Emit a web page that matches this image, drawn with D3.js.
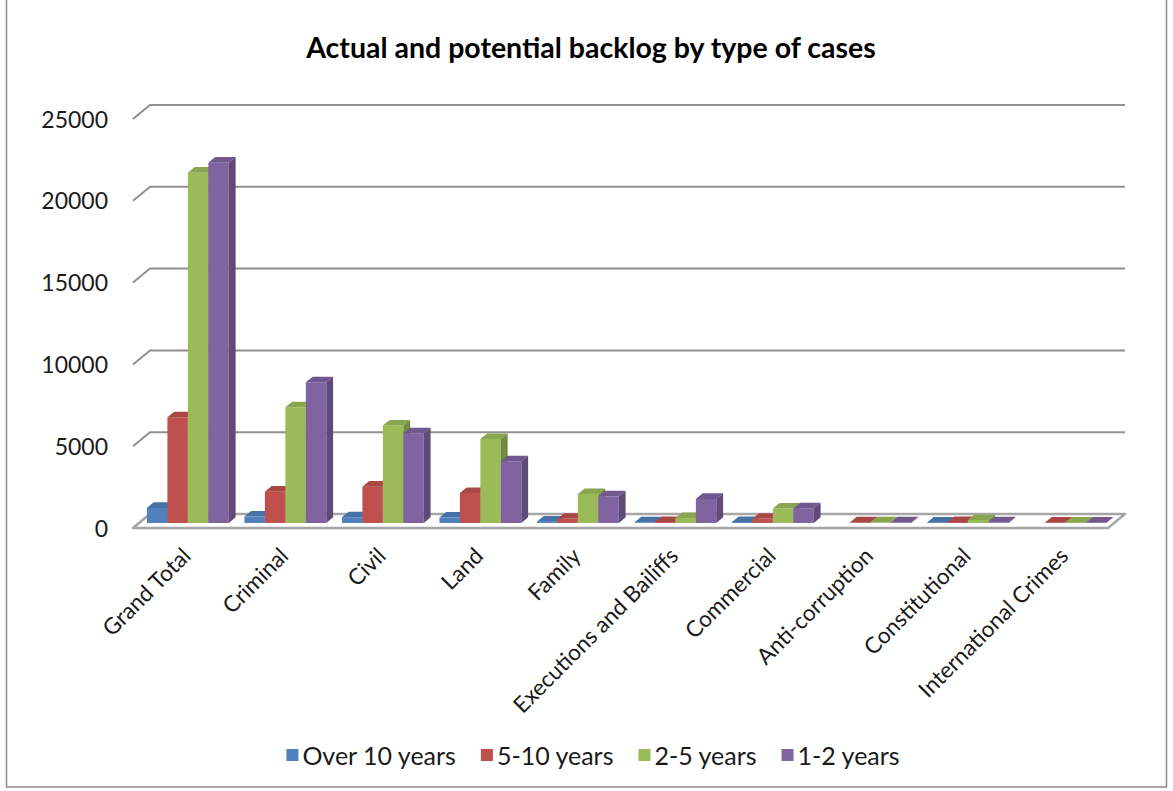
<!DOCTYPE html>
<html>
<head>
<meta charset="utf-8">
<script src="https://cdn.jsdelivr.net/npm/d3@7"></script>
<style>
  html, body { margin: 0; padding: 0; background: #fff; }
  svg { display: block; font-family: Lato, "Open Sans", sans-serif; }
</style>
</head>
<body>
<svg id="chart" width="1173" height="791"></svg>
<script>
// Case categories along the horizontal axis
const categories = [
  "Grand Total", "Criminal", "Civil", "Land", "Family",
  "Executions and Bailiffs", "Commercial", "Anti-corruption",
  "Constitutional", "International Crimes"
];

// Backlog series (number of cases by age of case)
const seriesNames = ["Over 10 years", "5-10 years", "2-5 years", "1-2 years"];
const overTenYears = [920, 390, 350, 330, 80, 30, 60, 0, 20, 0];
const fiveToTenYears = [6460, 1910, 2220, 1830, 250, 60, 250, 30, 60, 15];
const twoToFiveYears = [21410, 7070, 5950, 5130, 1770, 300, 880, 40, 180, 15];
const oneToTwoYears = [22020, 8600, 5480, 3770, 1630, 1470, 900, 30, 40, 15];
const seriesColors = ["#4F81BD", "#C0504D", "#9BBB59", "#8064A2"];

// Value axis ticks
const yTicks = [0, 5000, 10000, 15000, 20000, 25000];

const seriesValues = [overTenYears, fiveToTenYears, twoToFiveYears, oneToTwoYears];

const svg = d3.select("#chart");

// Outer chart border
svg.append("rect")
  .attr("x", 6.5).attr("y", -2)
  .attr("width", 1160).attr("height", 789)
  .attr("fill", "none").attr("stroke", "#8c8c8c").attr("stroke-width", 1.5);

// Title
svg.append("text")
  .attr("x", 591).attr("y", 47)
  .attr("text-anchor", "middle").attr("dominant-baseline", "central")
  .attr("font-size", 28.5).attr("font-weight", "bold").attr("fill", "#000")
  .text("Actual and potential backlog by type of cases");

// Oblique 3D projection: depth d in [0,1] shifts points right and up
const depthX = 17, depthY = -14;
const proj = (px, py, d) => [px + depthX * d, py + depthY * d];

const x = d3.scaleBand().domain(categories).range([133, 1108])
  .paddingInner(0.16).paddingOuter(0.08);
const xs = d3.scaleBand().domain(seriesNames).range([0, x.bandwidth()]);
const y = d3.scaleLinear().domain([0, 25000]).range([528, 119]);

const floorLeft = 133, floorRight = 1108;

// Back wall gridlines with the diagonal side-wall segment
const grid = svg.append("g");
yTicks.forEach(v => {
  const a = proj(floorLeft, y(v), 0);
  const b = proj(floorLeft, y(v), 1);
  const c = proj(floorRight, y(v), 1);
  grid.append("polyline")
    .attr("points", [a, b, c].map(p => p.join(",")).join(" "))
    .attr("fill", "none").attr("stroke", "#909090").attr("stroke-width", 2);
});

// Floor
const floorPts = [
  proj(floorLeft, y(0), 0), proj(floorRight, y(0), 0),
  proj(floorRight, y(0), 1), proj(floorLeft, y(0), 1)
];
svg.append("polygon")
  .attr("points", floorPts.map(p => p.join(",")).join(" "))
  .attr("fill", "#fff").attr("stroke", "#a6a6a6").attr("stroke-width", 2.5)
  .attr("stroke-linejoin", "round");

// Value axis labels
const yAxis = d3.axisLeft(y).tickValues(yTicks).tickSize(0).tickPadding(0)
  .tickFormat(d3.format("d"));
const yAxisG = svg.append("g").attr("transform", "translate(108,0)").call(yAxis);
yAxisG.select(".domain").remove();
yAxisG.selectAll("text")
  .attr("font-family", "Lato, 'Open Sans', sans-serif")
  .attr("font-size", 23).attr("fill", "#1a1a1a").attr("dy", "0.35em");

// 3D columns
const d0 = 0.36, d1 = 0.76;
const bars = svg.append("g");
const poly = pts => pts.map(p => p.join(",")).join(" ");

categories.forEach((cat, ci) => {
  seriesNames.forEach((name, si) => {
    const v = seriesValues[si][ci];
    if (v <= 0) return;
    const base = d3.color(seriesColors[si]);
    const x0 = x(cat) + xs(name);
    const x1 = x0 + xs.bandwidth();
    const yt = y(v), yb = y(0);
    const g = bars.append("g");
    // front face
    g.append("polygon")
      .attr("points", poly([proj(x0, yt, d0), proj(x1, yt, d0), proj(x1, yb, d0), proj(x0, yb, d0)]))
      .attr("fill", base.formatHex());
    // top face
    g.append("polygon")
      .attr("points", poly([proj(x0, yt, d0), proj(x1, yt, d0), proj(x1, yt, d1), proj(x0, yt, d1)]))
      .attr("fill", base.darker(0.35).formatHex());
    // right side face
    g.append("polygon")
      .attr("points", poly([proj(x1, yt, d0), proj(x1, yb, d0), proj(x1, yb, d1), proj(x1, yt, d1)]))
      .attr("fill", base.darker(0.85).formatHex());
  });
});

// Category labels, rotated
const catLabels = svg.append("g");
categories.forEach(cat => {
  const cx = x(cat) + x.bandwidth() / 2 - 2;
  const cy = 545;
  catLabels.append("text")
    .attr("transform", `translate(${cx},${cy}) rotate(-45)`)
    .attr("text-anchor", "end").attr("dominant-baseline", "hanging")
    .attr("font-size", 22.5).attr("fill", "#1a1a1a")
    .text(cat);
});

// Legend
const legend = svg.append("g").attr("transform", "translate(0,755)");
const items = [];
let cursor = 0;
seriesNames.forEach((name, i) => {
  const g = legend.append("g");
  g.append("rect").attr("x", 0).attr("y", -6).attr("width", 12).attr("height", 12)
    .attr("fill", seriesColors[i]);
  const t = g.append("text").attr("x", 16).attr("y", 0)
    .attr("dominant-baseline", "central").attr("font-size", 25).attr("fill", "#1a1a1a")
    .text(name);
  const w = 16 + t.node().getComputedTextLength();
  items.push({ g, offset: cursor });
  cursor += w + 25;
});
const legendWidth = cursor - 25;
const legendStart = 593 - legendWidth / 2;
items.forEach(it => it.g.attr("transform", `translate(${legendStart + it.offset},0)`));
</script>
</body>
</html>
